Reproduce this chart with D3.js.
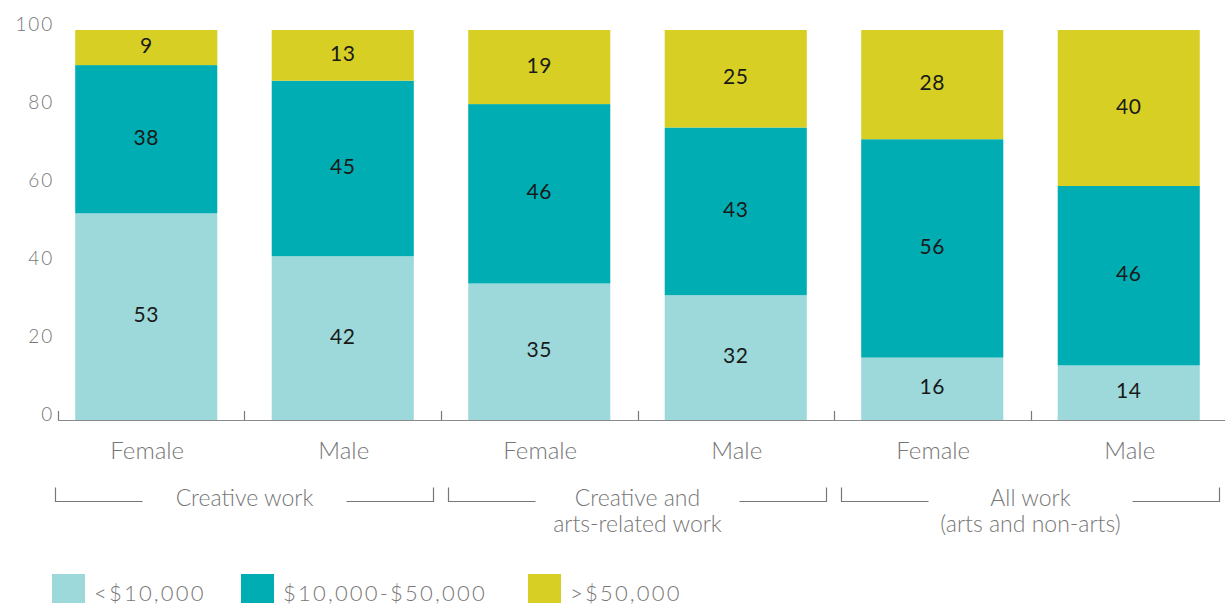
<!DOCTYPE html>
<html>
<head>
<meta charset="utf-8">
<script src="https://cdn.jsdelivr.net/npm/d3@7"></script>
<style>
  html, body { margin: 0; padding: 0; background: #fff; }
  svg { display: block; font-family: "Lato", "Noto Sans", sans-serif; }
</style>
</head>
<body>
<svg id="chart" width="1225" height="607"></svg>
<script>
// Earnings bands by gender and type of work (percent of respondents)
const bars = ["cw-f", "cw-m", "ca-f", "ca-m", "all-f", "all-m"];
const genders = ["Female", "Male", "Female", "Male", "Female", "Male"];
const groupNames = [["Creative work"], ["Creative and", "arts-related work"], ["All work", "(arts and non-arts)"]];
const seriesKeys = ["low", "mid", "high"];
const seriesNames = ["<$10,000", "$10,000-$50,000", ">$50,000"];
const lowValues = [53, 42, 35, 32, 16, 14];
const midValues = [38, 45, 46, 43, 56, 46];
const highValues = [9, 13, 19, 25, 28, 40];
const yTicks = [0, 20, 40, 60, 80, 100];
const colors = ["#9dd9da", "#00adb3", "#d8cf24"];

const rows = bars.map((id, i) => ({ id, low: lowValues[i], mid: midValues[i], high: highValues[i] }));
const stacked = d3.stack().keys(seriesKeys)(rows);

const svg = d3.select("#chart");
const x = d3.scaleBand().domain(bars).range([48, 1227]).paddingInner(0.277).paddingOuter(0.1385);
const y = d3.scaleLinear().domain([0, 100]).range([420, 30]);
const color = d3.scaleOrdinal().domain(seriesKeys).range(colors);
const gap = x.step() * x.paddingInner() / 2;
const grey = "#777";

// stacked segments
const layer = svg.append("g").selectAll("g").data(stacked).join("g")
  .attr("fill", d => color(d.key));
layer.selectAll("rect").data(d => d).join("rect")
  .attr("x", d => x(d.data.id))
  .attr("width", x.bandwidth())
  .attr("y", d => y(d[1]))
  .attr("height", d => y(d[0]) - y(d[1]));

// value labels inside segments
layer.selectAll("text").data(d => d).join("text")
  .attr("x", d => x(d.data.id) + x.bandwidth() / 2)
  .attr("y", d => (y(d[0]) + y(d[1])) / 2 - 3)
  .attr("text-anchor", "middle")
  .attr("dominant-baseline", "central")
  .attr("fill", "#1a1a1a")
  .attr("font-size", 21)
  .attr("letter-spacing", 0.5)
  .text(d => d[1] - d[0]);

// baseline with separators between bars
const axisY = y(0);
const axis = svg.append("g");
axis.append("line")
  .attr("x1", 58).attr("x2", 1225)
  .attr("y1", axisY + 0.5).attr("y2", axisY + 0.5)
  .attr("stroke", "#8a8a8a").attr("stroke-width", 1.2);
const sepX = [58].concat(bars.slice(1).map(b => x(b) - gap));
axis.selectAll("line.sep").data(sepX).join("line")
  .attr("class", "sep")
  .attr("x1", d => Math.round(d) + 0.5).attr("x2", d => Math.round(d) + 0.5)
  .attr("y1", axisY - 9).attr("y2", axisY)
  .attr("stroke", grey).attr("stroke-width", 1.2);

// y tick labels
svg.append("g").selectAll("text").data(yTicks).join("text")
  .attr("x", 54)
  .attr("y", d => y(d) + 1)
  .attr("text-anchor", "end")
  .attr("fill", grey)
  .attr("font-size", 19)
  .attr("font-weight", 300)
  .attr("letter-spacing", 1.8)
  .text(d => d);

// gender labels
svg.append("g").selectAll("text").data(bars).join("text")
  .attr("x", d => x(d) + x.bandwidth() / 2 + 1)
  .attr("y", 459)
  .attr("text-anchor", "middle")
  .attr("fill", grey)
  .attr("font-size", 24)
  .attr("font-weight", 300)
  .text((d, i) => genders[i]);

// group brackets and labels
const groups = groupNames.map((lines, g) => {
  const a = bars[g * 2], b = bars[g * 2 + 1];
  return { lines, left: x(a) - gap + 7.5, right: x(b) + x.bandwidth() + gap - 7.5 };
});
const gg = svg.append("g").selectAll("g").data(groups).join("g");
const bracketY = 501.5, armLen = 87, hookH = 14;
gg.append("path")
  .attr("d", d => `M${d.left},${bracketY - hookH}V${bracketY}H${d.left + armLen}`)
  .attr("fill", "none").attr("stroke", grey).attr("stroke-width", 1.2);
gg.append("path")
  .attr("d", d => `M${d.right - armLen},${bracketY}H${d.right}V${bracketY - hookH}`)
  .attr("fill", "none").attr("stroke", grey).attr("stroke-width", 1.2);
gg.each(function (d) {
  const t = d3.select(this).append("text")
    .attr("text-anchor", "middle")
    .attr("fill", grey)
    .attr("font-size", 23)
    .attr("font-weight", 300);
  d.lines.forEach((line, i) => {
    t.append("tspan")
      .attr("x", (d.left + d.right) / 2)
      .attr("y", 506 + i * 26)
      .text(line);
  });
});

// legend
const legendX = [52, 241, 528];
const lg = svg.append("g").selectAll("g").data(seriesKeys).join("g")
  .attr("transform", (d, i) => `translate(${legendX[i]},574)`);
lg.append("rect").attr("width", 33).attr("height", 29).attr("fill", d => color(d));
lg.append("text")
  .attr("x", 42).attr("y", 27)
  .attr("fill", grey)
  .attr("font-size", 22)
  .attr("font-weight", 300)
  .attr("letter-spacing", 2.2)
  .text((d, i) => seriesNames[i]);
</script>
</body>
</html>
